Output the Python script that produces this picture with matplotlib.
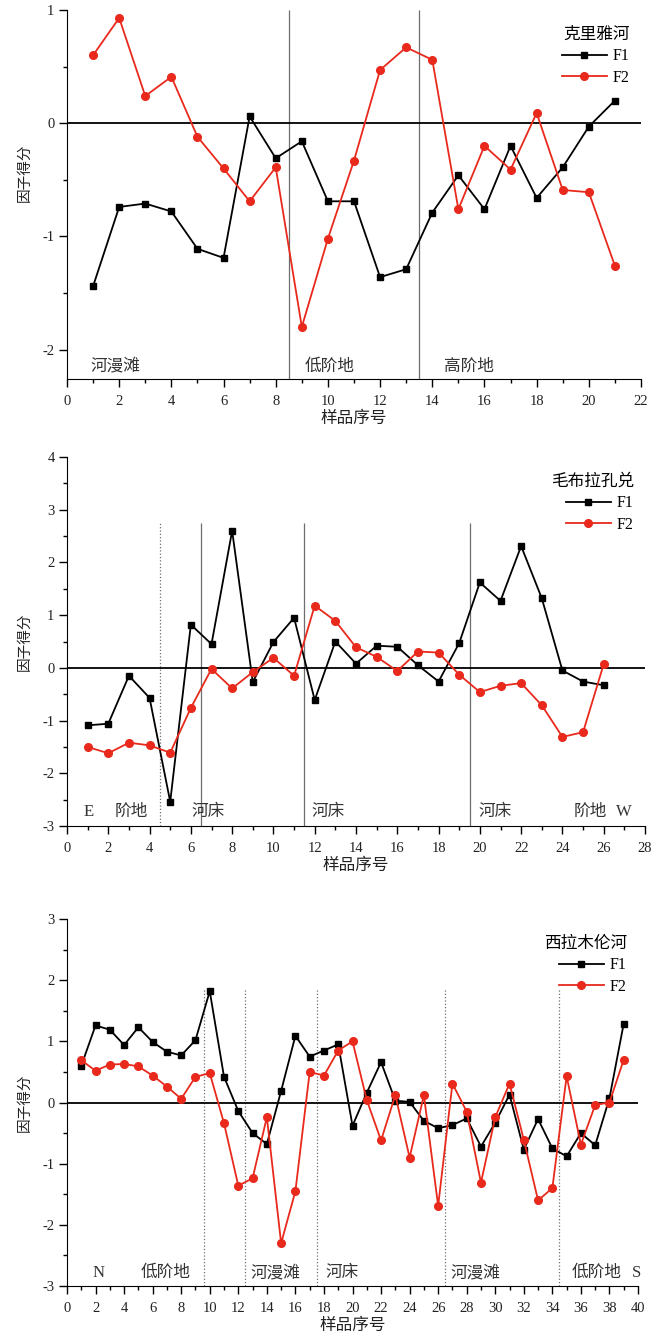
import numpy as np
import matplotlib
matplotlib.use("Agg")
import matplotlib.pyplot as plt
from matplotlib.ticker import MultipleLocator

plt.rcParams['font.family'] = ['Liberation Serif', 'Noto Sans CJK SC']
plt.rcParams['axes.unicode_minus'] = False

RED = "#e8291c"

# ---- panel 1: 克里雅河 ----
keriya_x = np.arange(1, 22)
keriya_f1 = [-1.44, -0.74, -0.71, -0.78, -1.11, -1.19, 0.06, -0.31, -0.16, -0.69,
             -0.69, -1.36, -1.29, -0.79, -0.46, -0.76, -0.20, -0.66, -0.39, -0.03, 0.20]
keriya_f2 = [0.60, 0.93, 0.24, 0.41, -0.12, -0.40, -0.69, -0.39, -1.80, -1.02,
             -0.33, 0.47, 0.67, 0.56, -0.76, -0.20, -0.41, 0.09, -0.59, -0.61, -1.26]
keriya_bounds = [8.5, 13.5]
keriya_zones = ["河漫滩", "低阶地", "高阶地"]
keriya_zone_x = [1.85, 10.05, 15.4]

# ---- panel 2: 毛布拉孔兑 ----
maobula_x = np.arange(1, 27)
maobula_f1 = [-1.09, -1.06, -0.15, -0.57, -2.54, 0.82, 0.45, 2.60, -0.27, 0.49,
              0.95, -0.61, 0.50, 0.08, 0.42, 0.40, 0.05, -0.26, 0.47, 1.62,
              1.27, 2.31, 1.32, -0.05, -0.26, -0.33]
maobula_f2 = [-1.50, -1.62, -1.42, -1.47, -1.61, -0.76, -0.02, -0.39, -0.08, 0.19,
              -0.15, 1.18, 0.89, 0.39, 0.21, -0.06, 0.31, 0.29, -0.13, -0.46,
              -0.34, -0.29, -0.71, -1.31, -1.22, 0.07]
maobula_bounds = [4.5, 6.5, 11.5, 19.5]
maobula_zones = ["E", "阶地", "河床", "河床", "河床", "阶地", "W"]
maobula_zone_x = [1.06, 3.12, 6.86, 12.64, 20.76, 25.36, 27.0]

# ---- panel 3: 西拉木伦河 ----
xilamulun_x = np.arange(1, 40)
xilamulun_f1 = [0.60, 1.26, 1.19, 0.94, 1.23, 0.99, 0.83, 0.77, 1.02, 1.82,
                0.42, -0.14, -0.50, -0.68, 0.19, 1.09, 0.75, 0.85, 0.95, -0.38,
                0.16, 0.66, 0.03, 0.01, -0.30, -0.42, -0.37, -0.26, -0.72, -0.33,
                0.13, -0.77, -0.27, -0.75, -0.88, -0.50, -0.70, 0.07, 1.29]
xilamulun_f2 = [0.69, 0.52, 0.62, 0.63, 0.59, 0.44, 0.26, 0.06, 0.42, 0.48,
                -0.34, -1.36, -1.24, -0.24, -2.30, -1.45, 0.50, 0.44, 0.85, 1.00,
                0.04, -0.62, 0.12, -0.90, 0.12, -1.69, 0.31, -0.15, -1.31, -0.24,
                0.31, -0.61, -1.60, -1.40, 0.43, -0.69, -0.04, 0.00, 0.70]
xilamulun_bounds = [9.6, 12.5, 17.5, 26.5, 34.5]
xilamulun_zones = ["N", "低阶地", "河漫滩", "河床", "河漫滩", "低阶地", "S"]
xilamulun_zone_x = [2.2, 6.93, 14.6, 19.25, 28.6, 37.1, 39.9]

W, H = 658, 1335
fig = plt.figure(figsize=(W / 100, H / 100), dpi=100)


def make_axes(left, right, top, bottom):
    return fig.add_axes([left / W, 1 - bottom / H, (right - left) / W, (bottom - top) / H])


def draw_panel(ax, x, f1, f2, title, xmax, ylim, bounds, bound_top, bound_styles,
               zones, zone_x, zone_y, ylabel_y=0.5):
    ax.plot(x, f1, color="black", lw=1.3, marker="s", ms=5, label="F1", zorder=3)
    ax.plot(x, f2, color=RED, lw=1.3, marker="o", ms=5.5, label="F2", zorder=3)
    ax.axhline(0, color="black", lw=1.3, zorder=2)
    for b, ls in zip(bounds, bound_styles):
        ax.vlines(b, ylim[0], bound_top, color="#6e6e6e", lw=0.9, linestyles=ls, zorder=1)
    for t, tx in zip(zones, zone_x):
        ax.text(tx, zone_y, t, ha="center", va="center", fontsize=12, color="#333333")

    ax.set_xlim(0, xmax)
    ax.set_ylim(*ylim)
    ax.spines["top"].set_visible(False)
    ax.spines["right"].set_visible(False)
    ax.xaxis.set_major_locator(MultipleLocator(2))
    ax.xaxis.set_minor_locator(MultipleLocator(1))
    ax.yaxis.set_major_locator(MultipleLocator(1))
    ax.yaxis.set_minor_locator(MultipleLocator(0.5))
    ax.tick_params(which="major", direction="out", length=5.5, width=1, labelsize=10.5,
                   labelcolor="#222222")
    ax.tick_params(axis="x", which="major", pad=6)
    ax.tick_params(which="minor", direction="out", length=3, width=1)
    ax.set_xlabel("样品序号", fontsize=12, labelpad=2, color="#222222")
    ax.set_ylabel("因子得分", fontsize=10.5, color="#222222")
    ax.yaxis.set_label_coords(-0.062, ylabel_y)

    leg = ax.legend(title=title, loc="upper right", bbox_to_anchor=(1.0, 0.985),
                    frameon=False, fontsize=11.5, title_fontsize=12, handlelength=2.8,
                    labelspacing=0.35, borderpad=0.2, handletextpad=0.4)
    leg._legend_box.align = "right"


ax1 = make_axes(67, 641, 10, 379)
draw_panel(ax1, keriya_x, keriya_f1, keriya_f2, "克里雅河", 22, (-2.26, 1.0),
           keriya_bounds, 1.0, ["solid", "solid"],
           keriya_zones, keriya_zone_x, -2.15, ylabel_y=0.56)

ax2 = make_axes(67, 645, 457, 826)
draw_panel(ax2, maobula_x, maobula_f1, maobula_f2, "毛布拉孔兑", 28, (-3, 4),
           maobula_bounds, 2.75, ["dotted", "solid", "solid", "solid"],
           maobula_zones, maobula_zone_x, -2.73)

ax3 = make_axes(67, 638, 919, 1286)
draw_panel(ax3, xilamulun_x, xilamulun_f1, xilamulun_f2, "西拉木伦河", 40, (-3, 3),
           xilamulun_bounds, 1.85, ["dotted"] * 5,
           xilamulun_zones, xilamulun_zone_x, -2.79)

fig.savefig("out.png", dpi=100)
